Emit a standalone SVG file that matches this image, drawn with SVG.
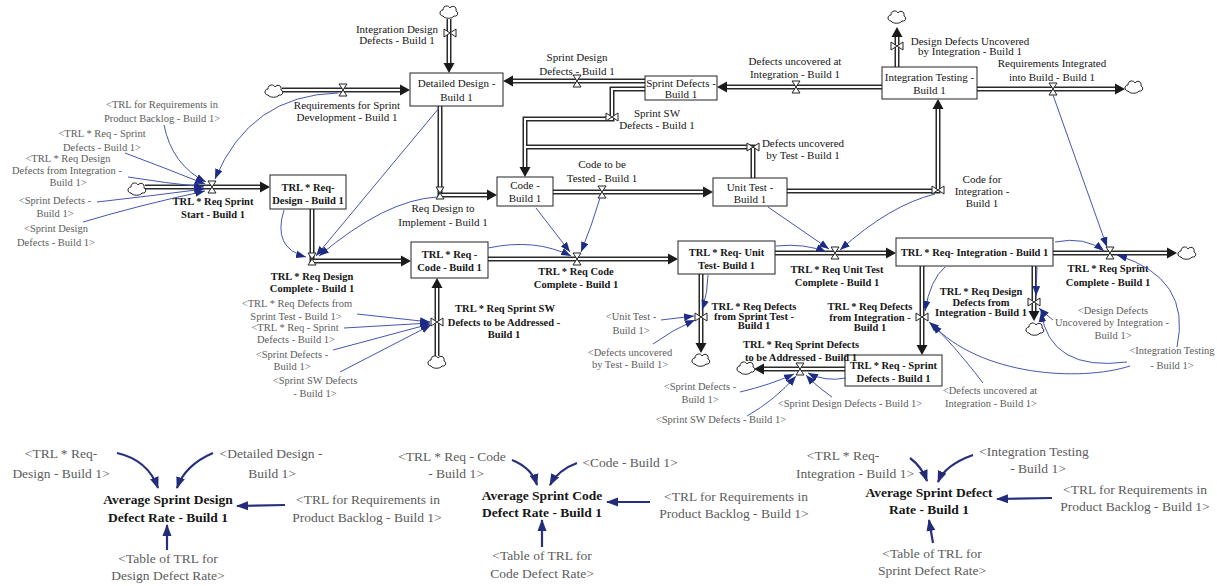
<svg xmlns="http://www.w3.org/2000/svg" width="1217" height="586" viewBox="0 0 1217 586" font-family="Liberation Serif, Times New Roman, serif">
<style>
  .st { fill:#fff; stroke:#222; stroke-width:1; }
  .po { fill:none; stroke:#2a2a2a; stroke-width:5; }
  .pa { marker-end:url(#pipeHead); }
  .pi { fill:none; stroke:#fff; stroke-width:2; }
  .vl { fill:#fff; stroke:#222; stroke-width:1; }
  .cl { fill:#fff; stroke:#222; stroke-width:1; }
  .cn { fill:none; stroke:#4656b0; stroke-width:1; marker-end:url(#linkHead); }
  .bk { fill:none; stroke:#27307d; stroke-width:2.2; marker-end:url(#bigHead); }
  .t { font-size:11px; fill:#161616; text-anchor:middle; }
  .b { font-weight:bold; font-size:10.5px; }
  .g { fill:#5c5c5c; font-size:10.5px; }
  .L { font-size:13.5px; }
</style>
<defs>
  <marker id="pipeHead" markerUnits="userSpaceOnUse" markerWidth="11" markerHeight="12" viewBox="0 -6 11 12" refX="0" refY="0" orient="auto">
    <path d="M0,-5.5 L10,0 L0,5.5 Z" fill="#1a1a1a"/>
  </marker>
  <marker id="linkHead" markerUnits="userSpaceOnUse" markerWidth="10" markerHeight="8" viewBox="0 -4 10 8" refX="10" refY="0" orient="auto">
    <path d="M0,-3.8 L10,0 L0,3.8 Z" fill="#1d2b85"/>
  </marker>
  <marker id="bigHead" markerUnits="userSpaceOnUse" markerWidth="12" markerHeight="10" viewBox="0 -5 12 10" refX="11" refY="0" orient="auto">
    <path d="M0,-4.5 L12,0 L0,4.5 Z" fill="#222c78"/>
  </marker>
  <path id="valveH" class="vl" d="M-4,-6 H4 L-4,6 H4 Z"/>
  <path id="valveV" class="vl" d="M-6,-4 V4 L6,-4 V4 Z"/>
  <path id="cloud" class="cl" d="M-6,4 C-10,4 -10,-2 -6,-2 C-6,-7 0,-7 1,-4 C3,-7 8,-6 7,-1 C10,0 9,5 5,4 C3,7 -4,7 -6,4 Z"/>
</defs>
<rect width="1217" height="586" fill="#fff"/>

<!-- material flow pipes: dark outer strokes, then white cores -->
<g id="flow-pipes">
  <path class="po pa" d="M145 187 H260"/>
  <path class="po pa" d="M282 90 H400"/>
  <path class="po pa" d="M449 19 V63"/>
  <path class="po pa" d="M645 81 H513"/>
  <path class="po pa" d="M882 87 H727"/>
  <path class="po pa" d="M645 89 H612 V119 H525 V167"/>
  <path class="po" d="M753 178 V147 H525"/>
  <path class="po pa" d="M553 192 H703"/>
  <path class="po pa" d="M440 106 V195 H487"/>
  <path class="po pa" d="M312 209 V261 H401"/>
  <path class="po pa" d="M437 356 V288"/>
  <path class="po pa" d="M488 259 H668"/>
  <path class="po pa" d="M701 274 V343"/>
  <path class="po pa" d="M775 253 H886"/>
  <path class="po pa" d="M922 266 V345"/>
  <path class="po pa" d="M1034 266 V311"/>
  <path class="po pa" d="M1053 253 H1167"/>
  <path class="po pa" d="M845 369 H764"/>
  <path class="po pa" d="M897 67 V37"/>
  <path class="po pa" d="M977 89 H1115"/>
  <path class="po pa" d="M787 191 H938 V109"/>

  <path class="pi" d="M145 187 H260"/>
  <path class="pi" d="M282 90 H400"/>
  <path class="pi" d="M449 19 V63"/>
  <path class="pi" d="M645 81 H513"/>
  <path class="pi" d="M882 87 H727"/>
  <path class="pi" d="M645 89 H612 V119 H525 V167"/>
  <path class="pi" d="M753 178 V147 H525"/>
  <path class="pi" d="M553 192 H703"/>
  <path class="pi" d="M440 106 V195 H487"/>
  <path class="pi" d="M312 209 V261 H401"/>
  <path class="pi" d="M437 356 V288"/>
  <path class="pi" d="M488 259 H668"/>
  <path class="pi" d="M701 274 V343"/>
  <path class="pi" d="M775 253 H886"/>
  <path class="pi" d="M922 266 V345"/>
  <path class="pi" d="M1034 266 V311"/>
  <path class="pi" d="M1053 253 H1167"/>
  <path class="pi" d="M845 369 H764"/>
  <path class="pi" d="M897 67 V37"/>
  <path class="pi" d="M977 89 H1115"/>
  <path class="pi" d="M787 191 H938 V109"/>

  <!-- sources and sinks -->
  <use href="#cloud" x="137" y="189"/>
  <use href="#cloud" x="274" y="91"/>
  <use href="#cloud" x="449" y="12"/>
  <use href="#cloud" x="437" y="362"/>
  <use href="#cloud" x="701" y="360"/>
  <use href="#cloud" x="1035" y="329"/>
  <use href="#cloud" x="1187" y="253"/>
  <use href="#cloud" x="746" y="368"/>
  <use href="#cloud" x="897" y="17"/>
  <use href="#cloud" x="1134" y="87"/>
</g>

<!-- stocks -->
<g id="stock-detailed-design">
  <rect class="st" x="410" y="73" width="93" height="33"/>
  <text class="t"><tspan x="456.5" y="87">Detailed Design -</tspan><tspan x="456.5" y="101">Build 1</tspan></text>
</g>
<g id="stock-sprint-defects">
  <rect class="st" x="645" y="76" width="72" height="24"/>
  <text class="t"><tspan x="681" y="87">Sprint Defects -</tspan><tspan x="681" y="98">Build 1</tspan></text>
</g>
<g id="stock-integration-testing">
  <rect class="st" x="882" y="67" width="95" height="32"/>
  <text class="t"><tspan x="929.5" y="81">Integration Testing -</tspan><tspan x="929.5" y="94">Build 1</tspan></text>
</g>
<g id="stock-code">
  <rect class="st" x="497" y="177" width="56" height="29"/>
  <text class="t"><tspan x="525" y="189">Code -</tspan><tspan x="525" y="202">Build 1</tspan></text>
</g>
<g id="stock-unit-test">
  <rect class="st" x="713" y="178" width="74" height="28"/>
  <text class="t"><tspan x="750" y="191">Unit Test -</tspan><tspan x="750" y="203">Build 1</tspan></text>
</g>
<g id="stock-trl-req-design">
  <rect class="st" x="270" y="175" width="76" height="34"/>
  <text class="t b"><tspan x="308" y="191">TRL * Req-</tspan><tspan x="308" y="204">Design - Build 1</tspan></text>
</g>
<g id="stock-trl-req-code">
  <rect class="st" x="411" y="242" width="77" height="36"/>
  <text class="t b"><tspan x="449.5" y="258">TRL * Req -</tspan><tspan x="449.5" y="271">Code - Build 1</tspan></text>
</g>
<g id="stock-trl-req-unit-test">
  <rect class="st" x="678" y="241" width="97" height="33"/>
  <text class="t b"><tspan x="726.5" y="256">TRL * Req- Unit</tspan><tspan x="726.5" y="269">Test- Build 1</tspan></text>
</g>
<g id="stock-trl-req-integration">
  <rect class="st" x="896" y="238" width="157" height="28"/>
  <text class="t b" x="974.5" y="256">TRL * Req- Integration - Build 1</text>
</g>
<g id="stock-trl-req-sprint-defects">
  <rect class="st" x="845" y="355" width="97" height="31"/>
  <text class="t b"><tspan x="893.5" y="369">TRL * Req - Sprint</tspan><tspan x="893.5" y="382">Defects - Build 1</tspan></text>
</g>

<!-- flows: valve and name -->
<g id="flow-trl-req-sprint-start">
  <use href="#valveH" x="212" y="187"/>
  <text class="t b"><tspan x="213" y="205">TRL * Req Sprint</tspan><tspan x="213" y="218">Start - Build 1</tspan></text>
</g>
<g id="flow-requirements-for-sprint-development">
  <use href="#valveH" x="343" y="90"/>
  <text class="t"><tspan x="347" y="109">Requirements for Sprint</tspan><tspan x="347" y="121">Development - Build 1</tspan></text>
</g>
<g id="flow-integration-design-defects">
  <use href="#valveV" x="450" y="33"/>
  <text class="t"><tspan x="397" y="33">Integration Design</tspan><tspan x="397" y="44">Defects - Build 1</tspan></text>
</g>
<g id="flow-sprint-design-defects">
  <use href="#valveH" x="577" y="81"/>
  <text class="t"><tspan x="577" y="61">Sprint Design</tspan><tspan x="577" y="75">Defects - Build 1</tspan></text>
</g>
<g id="flow-defects-uncovered-at-integration">
  <use href="#valveH" x="796" y="87"/>
  <text class="t"><tspan x="795" y="65">Defects uncovered at</tspan><tspan x="795" y="78">Integration - Build 1</tspan></text>
</g>
<g id="flow-sprint-sw-defects">
  <use href="#valveV" x="612" y="117"/>
  <text class="t"><tspan x="657" y="117">Sprint SW</tspan><tspan x="657" y="129">Defects - Build 1</tspan></text>
</g>
<g id="flow-defects-uncovered-by-test">
  <use href="#valveV" x="753" y="147"/>
  <text class="t"><tspan x="803" y="147">Defects uncovered</tspan><tspan x="803" y="159">by Test - Build 1</tspan></text>
</g>
<g id="flow-code-to-be-tested">
  <use href="#valveH" x="602" y="192"/>
  <text class="t"><tspan x="602" y="168">Code to be</tspan><tspan x="602" y="182">Tested - Build 1</tspan></text>
</g>
<g id="flow-req-design-to-implement">
  <use href="#valveH" x="440" y="193"/>
  <text class="t"><tspan x="443" y="212">Req Design to</tspan><tspan x="443" y="226">Implement - Build 1</tspan></text>
</g>
<g id="flow-trl-req-design-complete">
  <use href="#valveH" x="312" y="259"/>
  <text class="t b"><tspan x="312" y="280">TRL * Req Design</tspan><tspan x="312" y="292">Complete - Build 1</tspan></text>
</g>
<g id="flow-trl-req-sprint-sw-defects">
  <use href="#valveV" x="437" y="322"/>
  <text class="t b"><tspan x="505" y="312">TRL * Req Sprint SW</tspan><tspan x="504" y="326">Defects to be Addressed -</tspan><tspan x="504" y="338">Build 1</tspan></text>
</g>
<g id="flow-trl-req-code-complete">
  <use href="#valveH" x="577" y="259"/>
  <text class="t b"><tspan x="576" y="275">TRL * Req Code</tspan><tspan x="576" y="288">Complete - Build 1</tspan></text>
</g>
<g id="flow-trl-req-defects-from-sprint-test">
  <use href="#valveV" x="701" y="317"/>
  <text class="t b"><tspan x="754" y="310">TRL * Req Defects</tspan><tspan x="754" y="320">from Sprint Test -</tspan><tspan x="754" y="329">Build 1</tspan></text>
</g>
<g id="flow-trl-req-unit-test-complete">
  <use href="#valveH" x="835" y="253"/>
  <text class="t b"><tspan x="837" y="273">TRL * Req Unit Test</tspan><tspan x="837" y="286">Complete - Build 1</tspan></text>
</g>
<g id="flow-trl-req-defects-from-integration">
  <use href="#valveV" x="922" y="317"/>
  <text class="t b"><tspan x="870" y="310">TRL * Req Defects</tspan><tspan x="870" y="321">from Integration -</tspan><tspan x="870" y="331">Build 1</tspan></text>
</g>
<g id="flow-trl-req-design-defects-from-integration">
  <use href="#valveV" x="1034" y="302"/>
  <text class="t b"><tspan x="981" y="295">TRL * Req Design</tspan><tspan x="981" y="306">Defects from</tspan><tspan x="981" y="316">Integration - Build 1</tspan></text>
</g>
<g id="flow-trl-req-sprint-complete">
  <use href="#valveH" x="1110" y="253"/>
  <text class="t b"><tspan x="1108" y="272">TRL * Req Sprint</tspan><tspan x="1108" y="286">Complete - Build 1</tspan></text>
</g>
<g id="flow-trl-req-sprint-defects-to-be-addressed">
  <use href="#valveH" x="800" y="369"/>
  <text class="t b"><tspan x="801" y="348">TRL * Req Sprint Defects</tspan><tspan x="801" y="361">to be Addressed - Build 1</tspan></text>
</g>
<g id="flow-design-defects-uncovered-by-integration">
  <use href="#valveV" x="897" y="46"/>
  <text class="t"><tspan x="970" y="45">Design Defects Uncovered</tspan><tspan x="970" y="55">by Integration - Build 1</tspan></text>
</g>
<g id="flow-requirements-integrated">
  <use href="#valveH" x="1053" y="89"/>
  <text class="t"><tspan x="1052" y="67">Requirements Integrated</tspan><tspan x="1052" y="81">into Build - Build 1</tspan></text>
</g>
<g id="flow-code-for-integration">
  <use href="#valveV" x="938" y="190"/>
  <text class="t"><tspan x="982" y="183">Code for</tspan><tspan x="982" y="195">Integration -</tspan><tspan x="982" y="207">Build 1</tspan></text>
</g>

<!-- shadow variables (upper model) -->
<g id="sh-trl-backlog-a"><text class="t g"><tspan x="162" y="108">&lt;TRL for Requirements in</tspan><tspan x="162" y="122">Product Backlog - Build 1&gt;</tspan></text></g>
<g id="sh-trl-sprint-defects-a"><text class="t g"><tspan x="102" y="137">&lt;TRL * Req - Sprint</tspan><tspan x="102" y="151">Defects - Build 1&gt;</tspan></text></g>
<g id="sh-trl-design-defects-int"><text class="t g"><tspan x="68" y="162">&lt;TRL * Req Design</tspan><tspan x="67" y="174">Defects from Integration -</tspan><tspan x="68" y="186">Build 1&gt;</tspan></text></g>
<g id="sh-sprint-defects-a"><text class="t g"><tspan x="55" y="204">&lt;Sprint Defects -</tspan><tspan x="55" y="217">Build 1&gt;</tspan></text></g>
<g id="sh-sprint-design-defects-a"><text class="t g"><tspan x="56" y="232">&lt;Sprint Design</tspan><tspan x="56" y="246">Defects - Build 1&gt;</tspan></text></g>
<g id="sh-trl-defects-sprint-test"><text class="t g"><tspan x="297" y="307">&lt;TRL * Req Defects from</tspan><tspan x="296" y="320">Sprint Test - Build 1&gt;</tspan></text></g>
<g id="sh-trl-sprint-defects-b"><text class="t g"><tspan x="295" y="331">&lt;TRL * Req - Sprint</tspan><tspan x="296" y="343">Defects - Build 1&gt;</tspan></text></g>
<g id="sh-sprint-defects-b"><text class="t g"><tspan x="292" y="358">&lt;Sprint Defects -</tspan><tspan x="292" y="370">Build 1&gt;</tspan></text></g>
<g id="sh-sprint-sw-defects-b"><text class="t g"><tspan x="315" y="384">&lt;Sprint SW Defects</tspan><tspan x="315" y="397">- Build 1&gt;</tspan></text></g>
<g id="sh-unit-test"><text class="t g"><tspan x="631" y="320">&lt;Unit Test -</tspan><tspan x="631" y="334">Build 1&gt;</tspan></text></g>
<g id="sh-defects-uncovered-test"><text class="t g"><tspan x="630" y="356">&lt;Defects uncovered</tspan><tspan x="630" y="368">by Test - Build 1&gt;</tspan></text></g>
<g id="sh-sprint-defects-c"><text class="t g"><tspan x="700" y="390">&lt;Sprint Defects -</tspan><tspan x="700" y="403">Build 1&gt;</tspan></text></g>
<g id="sh-sprint-sw-defects-c"><text class="t g" x="721" y="423">&lt;Sprint SW Defects - Build 1&gt;</text></g>
<g id="sh-sprint-design-defects-c"><text class="t g" x="850" y="407">&lt;Sprint Design Defects - Build 1&gt;</text></g>
<g id="sh-defects-uncovered-int"><text class="t g"><tspan x="990" y="394">&lt;Defects uncovered at</tspan><tspan x="991" y="407">Integration - Build 1&gt;</tspan></text></g>
<g id="sh-design-defects-uncovered"><text class="t g"><tspan x="1113" y="314">&lt;Design Defects</tspan><tspan x="1112" y="326">Uncovered by Integration -</tspan><tspan x="1113" y="339">Build 1&gt;</tspan></text></g>
<g id="sh-integration-testing-a"><text class="t g"><tspan x="1172" y="354">&lt;Integration Testing</tspan><tspan x="1172" y="369">- Build 1&gt;</tspan></text></g>

<!-- defect rate auxiliaries (lower model) -->
<g id="aux-design-defect-rate">
  <text class="t g L"><tspan x="61" y="458">&lt;TRL * Req-</tspan><tspan x="61" y="478">Design - Build 1&gt;</tspan></text>
  <text class="t g L"><tspan x="271" y="458">&lt;Detailed Design -</tspan><tspan x="272" y="478">Build 1&gt;</tspan></text>
  <text class="t L" font-weight="bold"><tspan x="168" y="504">Average Sprint Design</tspan><tspan x="168" y="522">Defect Rate - Build 1</tspan></text>
  <text class="t g L"><tspan x="368" y="504">&lt;TRL for Requirements in</tspan><tspan x="367" y="522">Product Backlog - Build 1&gt;</tspan></text>
  <text class="t g L"><tspan x="168" y="563">&lt;Table of TRL for</tspan><tspan x="168" y="580">Design Defect Rate&gt;</tspan></text>
</g>
<g id="aux-code-defect-rate">
  <text class="t g L"><tspan x="452" y="461">&lt;TRL * Req - Code</tspan><tspan x="456" y="478">- Build 1&gt;</tspan></text>
  <text class="t g L" x="630" y="467">&lt;Code - Build 1&gt;</text>
  <text class="t L" font-weight="bold"><tspan x="542" y="500">Average Sprint Code</tspan><tspan x="542" y="517">Defect Rate - Build 1</tspan></text>
  <text class="t g L"><tspan x="736" y="501">&lt;TRL for Requirements in</tspan><tspan x="734" y="518">Product Backlog - Build 1&gt;</tspan></text>
  <text class="t g L"><tspan x="542" y="560">&lt;Table of TRL for</tspan><tspan x="542" y="578">Code Defect Rate&gt;</tspan></text>
</g>
<g id="aux-sprint-defect-rate">
  <text class="t g L"><tspan x="843" y="460">&lt;TRL * Req-</tspan><tspan x="855" y="478">Integration - Build 1&gt;</tspan></text>
  <text class="t g L"><tspan x="1034" y="456">&lt;Integration Testing</tspan><tspan x="1038" y="473">- Build 1&gt;</tspan></text>
  <text class="t L" font-weight="bold"><tspan x="929" y="497">Average Sprint Defect</tspan><tspan x="929" y="514">Rate - Build 1</tspan></text>
  <text class="t g L"><tspan x="1135" y="494">&lt;TRL for Requirements in</tspan><tspan x="1135" y="511">Product Backlog - Build 1&gt;</tspan></text>
  <text class="t g L"><tspan x="932" y="558">&lt;Table of TRL for</tspan><tspan x="932" y="575">Sprint Defect Rate&gt;</tspan></text>
</g>

<!-- information links -->
<g id="links">
  <path class="cn" d="M338,93 Q250,95 215,179"/>
  <path class="cn" d="M164,125 Q172,165 206,182"/>
  <path class="cn" d="M125,153 Q165,168 205,184"/>
  <path class="cn" d="M128,177 Q165,183 204,187"/>
  <path class="cn" d="M97,202 Q150,196 204,189"/>
  <path class="cn" d="M83,222 Q140,205 205,191"/>
  <path class="cn" d="M284,210 Q272,248 306,257"/>
  <path class="cn" d="M439,108 L316,256"/>
  <path class="cn" d="M437,197 Q385,200 319,256"/>
  <path class="cn" d="M536,208 L570,252"/>
  <path class="cn" d="M600,198 Q592,225 581,252"/>
  <path class="cn" d="M488,248 Q535,238 571,256"/>
  <path class="cn" d="M768,207 L829,249"/>
  <path class="cn" d="M935,194 Q890,205 840,250"/>
  <path class="cn" d="M776,246 Q805,243 826,252"/>
  <path class="cn" d="M708,275 Q708,292 702,310"/>
  <path class="cn" d="M661,320 L694,316"/>
  <path class="cn" d="M653,344 Q672,330 695,320"/>
  <path class="cn" d="M357,314 L430,322"/>
  <path class="cn" d="M344,328 L430,323"/>
  <path class="cn" d="M333,350 L430,324"/>
  <path class="cn" d="M340,372 L431,325"/>
  <path class="cn" d="M740,392 Q770,385 794,374"/>
  <path class="cn" d="M747,416 Q775,400 796,376"/>
  <path class="cn" d="M832,397 Q815,385 806,375"/>
  <path class="cn" d="M846,378 Q825,382 808,373"/>
  <path class="cn" d="M945,267 Q930,280 925,311"/>
  <path class="cn" d="M983,383 Q950,340 929,322"/>
  <path class="cn" d="M1130,366 C1080,382 980,376 932,324"/>
  <path class="cn" d="M1127,362 Q1050,372 1041,312"/>
  <path class="cn" d="M1053,320 Q1045,314 1039,308"/>
  <path class="cn" d="M1037,267 L1036,296"/>
  <path class="cn" d="M1177,347 Q1192,278 1117,255"/>
  <path class="cn" d="M1055,242 Q1085,236 1104,251"/>
  <path class="cn" d="M1053,95 L1107,247"/>

  <path class="bk" d="M117,453 Q148,460 158,488"/>
  <path class="bk" d="M213,453 Q185,465 177,488"/>
  <path class="bk" d="M285,505 L237,506"/>
  <path class="bk" d="M167,550 L167,525"/>
  <path class="bk" d="M512,460 Q532,468 537,485"/>
  <path class="bk" d="M577,463 Q558,470 550,485"/>
  <path class="bk" d="M650,502 L607,502"/>
  <path class="bk" d="M542,547 L542,520"/>
  <path class="bk" d="M910,458 Q922,467 927,481"/>
  <path class="bk" d="M973,455 Q945,465 938,482"/>
  <path class="bk" d="M1052,498 L997,499"/>
  <path class="bk" d="M933,543 L929,520"/>
</g>
</svg>
